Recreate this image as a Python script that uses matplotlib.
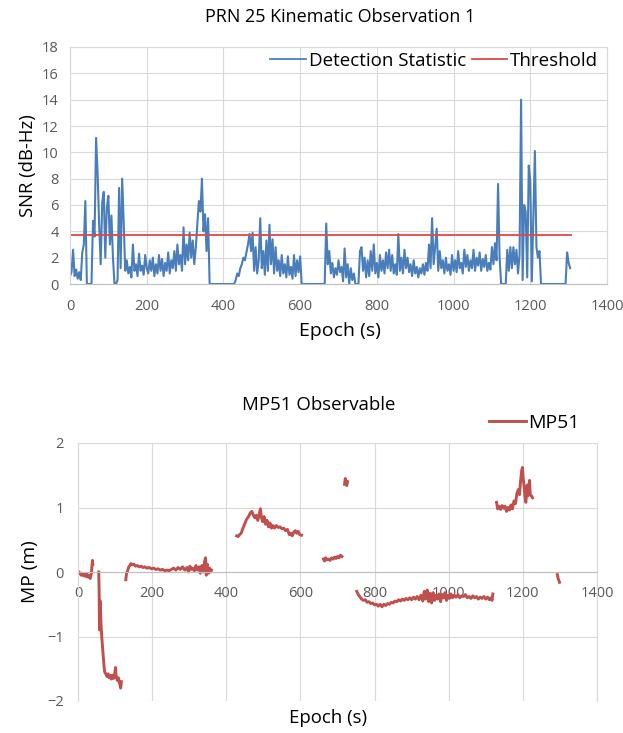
import numpy as np
import matplotlib
matplotlib.use("Agg")
import matplotlib.pyplot as plt

plt.rcParams['font.family'] = ['Open Sans', 'DejaVu Sans']

# ---------------- data: top chart (one value every 4 s) ----------------
snr_epoch_step = 4
snr_values = [
    0.6, 0.9, 2.6, 0.6, 1.1, 0.4, 0.9, 0.3, 2.4, 3.0, 6.3, 0.0,     # 0-44
    0.0, 0.0, 0.0, 4.8, 3.6, 11.1, 8.4, 4.5, 1.5, 6.2, 7.0, 2.0,     # 48-92
    5.8, 6.7, 3.0, 5.2, 2.0, 0.0, 0.0, 0.3, 7.3, 1.2, 8.0, 4.7,      # 96-140
    1.0, 1.8, 0.8, 1.3, 0.5, 3.0, 1.0, 1.5, 0.6, 2.3, 1.0, 1.4,      # 144-188
    0.7, 2.2, 1.2, 0.8, 1.8, 1.0, 2.0, 0.6, 1.5, 0.8, 2.2, 1.0,      # 192-236
    1.9, 0.6, 1.6, 1.0, 2.4, 0.8, 1.8, 1.2, 2.5, 1.0, 3.0, 1.5,      # 240-284
    2.2, 1.0, 4.3, 1.5, 3.0, 1.8, 3.9, 2.0, 3.3, 1.5, 2.8, 4.5,      # 288-332
    6.3, 5.5, 8.0, 4.0, 5.3, 2.5, 5.0, 0.0, 0.0, 0.0, 0.0, 0.0,      # 336-380
    0.0, 0.0, 0.0, 0.0, 0.0, 0.0, 0.0, 0.0, 0.0, 0.0, 0.0, 0.0,      # 384-428
    0.3, 0.8, 0.6, 1.2, 1.5, 2.0, 1.8, 2.4, 3.0, 3.8, 2.5, 3.9,      # 432-476
    1.0, 2.8, 0.8, 1.8, 5.0, 1.2, 2.5, 0.7, 3.3, 1.0, 4.5, 1.5,      # 480-524
    3.4, 0.8, 2.8, 1.0, 1.8, 0.6, 2.2, 0.8, 1.5, 0.5, 2.1, 0.7,      # 528-572
    1.3, 0.4, 2.2, 0.6, 1.8, 0.9, 2.1, 0.0, 0.0, 0.0, 0.0, 0.0,      # 576-620
    0.0, 0.0, 0.0, 0.0, 0.0, 0.0, 0.0, 0.0, 0.0, 0.0, 0.0, 4.6,      # 624-668
    1.5, 2.5, 0.8, 1.6, 0.5, 1.2, 0.7, 1.8, 0.9, 1.3, 0.2, 2.7,      # 672-716
    0.5, 1.5, 0.0, 1.2, 0.3, 0.8, 0.0, 0.0, 0.0, 2.5, 2.8, 1.0,      # 720-764
    2.0, 0.5, 1.8, 0.6, 2.5, 1.0, 3.0, 0.8, 1.6, 0.5, 2.2, 1.0,      # 768-812
    1.8, 0.8, 2.4, 1.2, 2.6, 1.0, 2.2, 0.8, 1.5, 0.7, 3.8, 1.0,      # 816-860
    2.0, 0.8, 2.6, 1.2, 2.0, 0.9, 1.5, 0.6, 1.8, 0.8, 1.3, 0.5,      # 864-908
    1.2, 0.8, 1.5, 0.7, 1.6, 1.0, 3.0, 1.2, 5.0, 1.5, 2.8, 4.2,      # 912-956
    1.0, 2.5, 1.2, 1.8, 0.8, 2.0, 1.0, 1.5, 0.7, 2.2, 1.0, 1.8,      # 960-1004
    0.9, 2.5, 1.2, 1.6, 0.8, 2.6, 1.3, 2.2, 1.0, 1.8, 1.2, 2.6,      # 1008-1052
    1.0, 2.0, 1.4, 2.4, 1.0, 1.9, 1.3, 2.2, 1.0, 1.6, 1.1, 2.8,      # 1056-1100
    1.5, 3.1, 1.8, 7.6, 2.0, 0.0, 0.0, 0.0, 0.0, 2.6, 1.0, 2.8,      # 1104-1148
    1.2, 2.8, 1.5, 2.6, 0.8, 2.2, 14.0, 0.3, 6.0, 5.5, 0.5, 9.0,     # 1152-1196
    7.8, 0.2, 5.3, 10.1, 2.8, 2.0, 2.5, 0.0, 0.0, 0.0, 0.0, 0.0,     # 1200-1244
    0.0, 0.0, 0.0, 0.0, 0.0, 0.0, 0.0, 0.0, 0.0, 0.0, 0.0, 0.0,      # 1248-1292
    2.4, 1.6, 1.2,                                                   # 1296-1304
]
assert len(snr_values) == 327, len(snr_values)
snr_epoch = np.arange(len(snr_values)) * snr_epoch_step
threshold_epoch = [0, 1305]
threshold_value = [3.7, 3.7]

# ---------------- data: bottom chart ----------------
nan = float('nan')
mp_epoch = [
    0, 3, 6, 9, 12, 15, 18, 21, 24, 27, 30, 33, 36, 39, 40, 48,
    56, 57, 58, 59, 60, 62, 64, 66, 68, 70, 72, 75, 78, 81, 84, 87, 90, 93, 96, 99,
    101, 103, 106, 109, 112, 115, 117, 123,
    129, 131, 134, 137, 140, 143, 147, 151, 155, 160, 165, 170, 175, 180, 186, 192,
    198, 204, 210, 216, 222, 228, 234, 240, 246, 252, 258, 264, 270, 276, 282, 288,
    294, 298, 302, 306, 310, 314, 318, 322, 326, 330, 334, 338, 341, 344, 346, 349,
    352, 355, 358, 360, 395,
    428, 432, 436, 440, 445, 450, 455, 460, 465, 469, 473, 477, 481, 485, 489, 492,
    495, 498, 502, 506, 510, 514, 518, 522, 526, 530, 535, 540, 545, 550, 555, 560,
    565, 570, 574, 578, 582, 586, 590, 594, 598, 603, 630,
    662, 665, 668, 672, 676, 680, 684, 688, 692, 696, 700, 704, 708, 712, 716,
    719, 721, 723, 725, 727, 740,
    752, 756, 760, 765, 770, 775, 780, 785, 790, 795, 800, 805, 810, 815, 820, 825,
    830, 835, 840, 845, 850, 855, 860, 865, 870, 875, 880, 885, 890, 895, 900, 905,
    910, 915, 920, 925, 930, 934, 938, 942, 946, 950, 954, 958, 962, 966, 970, 974,
    978, 982, 986, 990, 994, 998, 1002, 1006, 1010, 1015, 1020, 1025, 1030, 1035,
    1040, 1045, 1050, 1055, 1060, 1065, 1070, 1075, 1080, 1085, 1090, 1095, 1100,
    1105, 1110, 1114, 1117, 1119, 1125,
    1129, 1132, 1136, 1140, 1144, 1148, 1152, 1156, 1160, 1164, 1168, 1172, 1176,
    1180, 1184, 1188, 1191, 1194, 1197, 1199, 1201, 1204, 1206, 1208, 1210, 1212,
    1214, 1216, 1218, 1220, 1223, 1226, 1260,
    1293, 1295, 1297, 1299,
]
mp_value = [
    -0.02, 0.0, -0.03, -0.05, -0.02, -0.06, -0.04, -0.07, -0.03, -0.08, -0.05, -0.1, -0.02, 0.18, 0.12, nan,
    0.0, -0.3, -0.9, -0.55, -0.45, -0.8, -1.0, -1.15, -1.3, -1.45, -1.55, -1.58, -1.62, -1.58, -1.64, -1.6, -1.66, -1.6, -1.65, -1.58,
    -1.48, -1.62, -1.68, -1.64, -1.72, -1.8, -1.7, nan,
    -0.12, -0.02, 0.02, 0.08, 0.1, 0.13, 0.11, 0.12, 0.09, 0.1, 0.08, 0.09, 0.07, 0.08, 0.06, 0.07,
    0.05, 0.06, 0.04, 0.05, 0.03, 0.04, 0.02, 0.03, 0.02, 0.04, 0.06, 0.03, 0.07, 0.04, 0.08, 0.03,
    0.07, 0.0, 0.09, 0.04, 0.06, 0.02, 0.1, 0.03, 0.08, -0.02, 0.1, 0.0, 0.15, 0.22, -0.05, 0.12,
    -0.02, 0.06, 0.0, 0.03, nan,
    0.56, 0.55, 0.58, 0.6, 0.68, 0.75, 0.82, 0.86, 0.92, 0.94, 0.88, 0.84, 0.88, 0.8, 0.9, 0.98,
    0.84, 0.78, 0.86, 0.74, 0.8, 0.7, 0.76, 0.68, 0.72, 0.68, 0.72, 0.69, 0.7, 0.67, 0.68, 0.64,
    0.66, 0.58, 0.6, 0.56, 0.62, 0.64, 0.6, 0.63, 0.58, 0.57, nan,
    0.2, 0.17, 0.22, 0.19, 0.2, 0.18, 0.22, 0.2, 0.23, 0.21, 0.24, 0.22, 0.26, 0.24, nan,
    1.36, 1.45, 1.4, 1.34, 1.4, nan,
    -0.3, -0.35, -0.38, -0.42, -0.44, -0.43, -0.47, -0.46, -0.49, -0.48, -0.51, -0.5, -0.53, -0.5, -0.54, -0.5,
    -0.52, -0.49, -0.5, -0.47, -0.48, -0.45, -0.46, -0.43, -0.45, -0.42, -0.44, -0.41, -0.43, -0.4, -0.43, -0.39,
    -0.42, -0.38, -0.43, -0.36, -0.45, -0.3, -0.42, -0.28, -0.46, -0.33, -0.48, -0.32, -0.44, -0.36, -0.42, -0.34,
    -0.46, -0.35, -0.4, -0.32, -0.44, -0.36, -0.41, -0.34, -0.4, -0.36, -0.39, -0.35, -0.4, -0.37,
    -0.38, -0.35, -0.4, -0.38, -0.41, -0.37, -0.4, -0.38, -0.42, -0.39, -0.41, -0.38, -0.42,
    -0.39, -0.43, -0.4, -0.44, -0.34, nan,
    1.08, 0.98, 1.02, 0.97, 1.03, 0.99, 1.02, 0.94, 1.0, 0.96, 1.04, 0.98, 1.1,
    1.06, 1.22, 1.28, 1.2, 1.42, 1.58, 1.62, 1.45, 1.3, 1.15, 1.08, 1.22, 1.35,
    1.18, 1.25, 1.42, 1.2, 1.18, 1.15, nan,
    -0.04, -0.1, -0.13, -0.16,
]
assert len(mp_epoch) == len(mp_value), (len(mp_epoch), len(mp_value))

top_title = "PRN 25 Kinematic Observation 1"
bottom_title = "MP51 Observable"
x_ticks = [0, 200, 400, 600, 800, 1000, 1200, 1400]
top_y_ticks = [0, 2, 4, 6, 8, 10, 12, 14, 16, 18]
bottom_y_ticks = [-2, -1, 0, 1, 2]

BLUE = "#4a7ebb"
RED_THR = "#e0474c"
RED_MP = "#c0504d"
GRID = "#d9d9d9"
TICK = "#595959"
W, H = 623, 733

fig = plt.figure(figsize=(W/100, H/100), dpi=100)

# ---------------- top chart ----------------
ax1 = fig.add_axes([70/W, 1-284/H, (607-70)/W, (284-47)/H])
ax1.plot(snr_epoch, snr_values, color=BLUE, lw=1.5, label="Detection Statistic")
ax1.plot(threshold_epoch, threshold_value, color=RED_THR, lw=1.3, label="Threshold")
ax1.set_xlim(0, 1400)
ax1.set_ylim(0, 18)
ax1.set_xticks(x_ticks)
ax1.set_yticks(top_y_ticks)
ax1.grid(True, color=GRID, lw=0.8)
ax1.set_axisbelow(True)
for s in ax1.spines.values():
    s.set_color(GRID)
    s.set_linewidth(0.8)
ax1.spines['bottom'].set_color("#bfbfbf")
ax1.tick_params(length=0, labelsize=10.5, labelcolor=TICK)
ax1.tick_params(axis='x', pad=11)
ax1.tick_params(axis='y', pad=8)
ax1.set_ylabel("SNR (dB-Hz)", fontsize=13.3, labelpad=4)
fig.text(340/W, 1-331/H, "Epoch (s)", ha='center', va='center', fontsize=14)
fig.text(340/W, 1-17/H, top_title, ha='center', va='center', fontsize=13)
leg1 = ax1.legend(loc='center right', ncol=2, frameon=False, fontsize=13.5,
                  handlelength=1.9, handletextpad=0.15, columnspacing=0.3,
                  borderaxespad=0.0, borderpad=0.0,
                  bbox_to_anchor=(0, 1-61/H - 0.5, 598/W, 1), bbox_transform=fig.transFigure)
for ln in leg1.get_lines():
    ln.set_linewidth(1.3)

# ---------------- bottom chart ----------------
ax2 = fig.add_axes([78/W, 1-701/H, (597-78)/W, (701-443)/H])
ax2.plot(mp_epoch, mp_value, color=RED_MP, lw=2.1, label="MP51")
ax2.set_xlim(0, 1400)
ax2.set_ylim(-2, 2)
ax2.set_xticks(x_ticks)
ax2.set_yticks(bottom_y_ticks)
ax2.grid(True, color=GRID, lw=0.8)
ax2.set_axisbelow(True)
for s in ax2.spines.values():
    s.set_color(GRID)
    s.set_linewidth(0.8)
ax2.spines['bottom'].set_position(('data', 0))
ax2.spines['bottom'].set_color("#bfbfbf")
ax2.tick_params(length=0, labelsize=10.5, labelcolor=TICK)
ax2.tick_params(axis='x', pad=10)
ax2.tick_params(axis='y', pad=10)
ax2.set_ylabel("MP (m)", fontsize=13.8, labelpad=6)
fig.text(328/W, 1-718/H, "Epoch (s)", ha='center', va='center', fontsize=13.4)
fig.text(319/W, 1-405/H, bottom_title, ha='center', va='center', fontsize=13.4)
ax2.legend(loc='center right', frameon=False, fontsize=14, handlelength=1.9,
           handletextpad=0.15, borderaxespad=0.0, borderpad=0.0,
           bbox_to_anchor=(0, 1-423/H - 0.5, 580/W, 1), bbox_transform=fig.transFigure)

fig.savefig("out.png", dpi=100)
